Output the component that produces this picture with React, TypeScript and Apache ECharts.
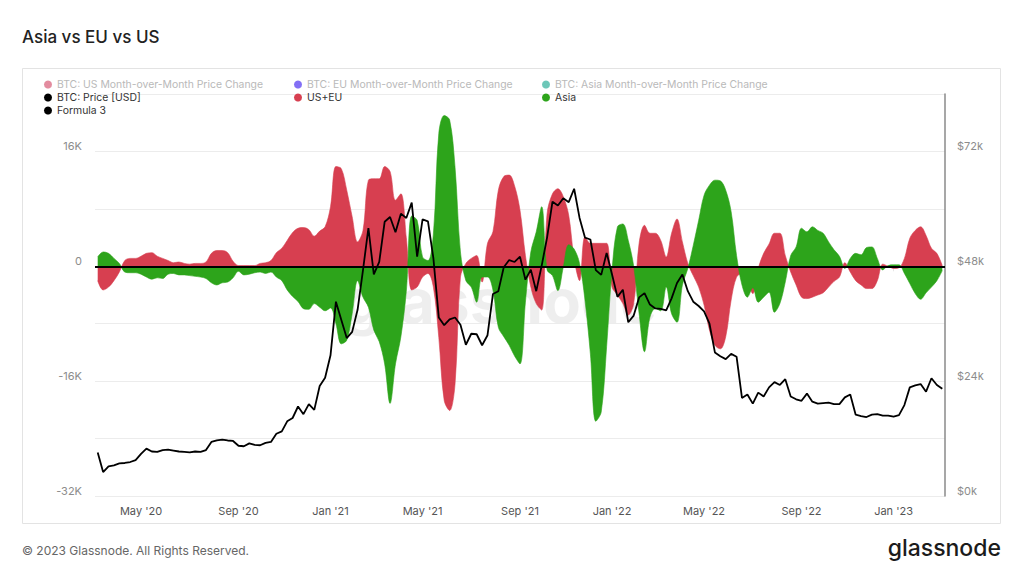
import React, { useEffect, useRef } from 'react';
import * as echarts from 'echarts';

// weekly samples starting 2020-03-06
const START_UTC = Date.UTC(2020, 2, 6);
const STEP_DAYS = 7;

// US+EU month-over-month change (thousands USD)
const usEu = [
  -2.0, -3.3, -2.9, -2.0, -0.8, 0.8, 1.1, 1.1, 1.4, 1.8,
  1.9, 1.4, 1.1, 0.8, 0.5, 0.6, 0.4, 0.3, 0.4, 0.4,
  0.6, 1.8, 2.2, 2.2, 1.9, 0.7, 0.1, 0.1, 0.1, 0.1,
  0.4, 0.5, 0.8, 1.9, 2.5, 3.6, 4.7, 5.3, 5.4, 5.1,
  4.2, 4.9, 5.5, 8.3, 13.9, 13.6, 10.6, 6.9, 3.4, 5.0,
  12.0, 12.2, 12.2, 13.9, 13.2, 9.2, 10.1, 4.0, -3.3, -2.9,
  -1.5, -1.0, -2.9, -9.9, -18.7, -20.1, -16.4, -1.5, 0.4, 1.1,
  1.5, -2.2, 3.2, 4.8, 10.6, 12.5, 12.7, 11.2, 7.8, 1.5,
  -2.9, -5.2, -6.1, 7.3, 10.1, 10.8, 9.7, 7.1, 1.0, -2.0,
  4.1, 3.2, 3.2, 3.2, 3.2, -2.9, -4.0, -5.2, -6.8, -5.2,
  3.2, 5.7, 4.6, 4.6, 3.6, 1.3, 4.6, 6.6, 3.4, 0.4,
  -1.3, -2.9, -5.4, -8.9, -11.0, -11.5, -9.8, -4.7, -1.5, -1.0,
  -2.2, -3.8, -0.3, 1.8, 3.1, 4.6, 4.6, 1.5, -0.8, -2.6,
  -4.3, -4.5, -4.3, -4.0, -3.7, -2.9, -2.1, -1.5, 0.5, -0.8,
  -2.0, -2.6, -3.1, -3.1, -2.0, 0.3, 0.0, -0.3, -0.2, 1.1,
  3.9, 5.0, 5.5, 4.3, 2.5, 1.8, 0.1,
];

// Asia month-over-month change (thousands USD)
const asia = [
  1.3, 2.0, 1.8, 1.1, 0.4, -0.8, -0.9, -0.9, -1.1, -1.5,
  -1.8, -1.6, -1.7, -1.1, -1.0, -1.2, -1.2, -1.3, -1.4, -1.5,
  -1.7, -2.3, -2.6, -2.3, -2.2, -1.6, -0.7, -1.2, -1.1, -0.9,
  -0.8, -1.0, -0.8, -1.5, -2.0, -3.3, -4.2, -4.9, -5.9, -6.0,
  -5.2, -5.7, -6.2, -5.8, -8.0, -10.8, -10.3, -6.6, -2.0, -4.3,
  -5.7, -8.9, -10.5, -13.6, -19.1, -13.6, -9.8, -3.5, 7.0, 6.4,
  1.3, 0.8, 4.5, 18.5, 21.0, 20.4, 13.8, 2.0, -2.0, -2.9,
  -5.0, -1.5, -1.5, -3.3, -8.5, -9.8, -11.0, -12.5, -13.6, -5.0,
  2.0, 4.8, 8.3, -0.5, -1.3, -3.4, -0.1, 3.0, 2.4, 0.4,
  -4.7, -12.2, -21.6, -20.3, -11.2, -0.5, 5.5, 5.9, 3.6, 0.0,
  -6.6, -11.9, -7.1, -5.9, -6.2, -2.9, -6.6, -7.8, -2.6, -0.3,
  2.9, 6.4, 9.9, 11.3, 12.0, 11.9, 10.6, 7.6, 1.5, -2.6,
  -4.3, -3.0, -5.0, -4.3, -3.6, -6.4, -5.2, -2.2, 1.5, 2.7,
  5.3, 4.8, 5.5, 5.0, 4.6, 3.4, 2.3, 1.4, -0.3, 1.1,
  1.8, 1.6, 2.6, 2.7, 1.1, -0.5, 0.1, 0.2, 0.2, -1.0,
  -2.4, -3.8, -4.6, -3.7, -2.9, -2.0, -0.6,
];

// BTC price (thousands USD)
const price = [
  9.1, 5.0, 6.2, 6.4, 6.8, 6.9, 7.1, 7.5, 8.8, 9.9,
  9.3, 9.2, 9.6, 9.7, 9.5, 9.3, 9.2, 9.1, 9.3, 9.2,
  9.6, 11.3, 11.6, 11.8, 11.6, 11.5, 10.5, 10.4, 11.0, 10.7,
  10.6, 11.1, 11.3, 13.0, 13.5, 15.6, 16.3, 18.7, 17.1, 19.2,
  18.0, 23.0, 24.7, 29.4, 40.6, 36.8, 33.0, 34.3, 38.9, 47.2,
  56.0, 46.3, 48.9, 57.3, 58.3, 55.1, 59.0, 58.1, 61.3, 50.0,
  57.8, 57.4, 49.7, 37.3, 35.7, 36.9, 37.3, 35.8, 31.6, 33.9,
  33.8, 31.5, 33.6, 42.2, 42.8, 47.8, 49.3, 48.9, 50.0, 45.2,
  47.3, 42.8, 48.1, 54.0, 61.5, 60.7, 62.2, 61.4, 64.2, 58.1,
  54.0, 53.6, 47.2, 46.2, 50.8, 46.3, 41.6, 43.1, 36.3, 37.7,
  41.5, 42.4, 40.0, 39.2, 39.1, 38.8, 41.3, 44.5, 46.3, 42.8,
  40.6, 39.7, 38.6, 36.0, 30.0, 29.2, 28.6, 29.7, 29.1, 20.5,
  21.2, 19.3, 21.6, 20.8, 22.7, 23.8, 23.2, 24.4, 20.8, 20.2,
  19.9, 21.4, 19.7, 19.3, 19.4, 19.5, 19.2, 19.2, 20.6, 21.2,
  17.0, 16.7, 16.5, 17.0, 17.1, 16.8, 16.8, 16.6, 16.9, 19.0,
  22.7, 23.1, 23.4, 21.8, 24.6, 23.2, 22.4,
];

const categories = usEu.map((_, i) =>
  new Date(START_UTC + i * STEP_DAYS * 86400000).toISOString().slice(0, 10)
);

const MONTHS = ['Jan', 'Feb', 'Mar', 'Apr', 'May', 'Jun', 'Jul', 'Aug', 'Sep', 'Oct', 'Nov', 'Dec'];
const LABEL_MONTHS = [0, 4, 8];

function tickLabel(dateStr: string): string {
  const t = Date.parse(dateStr + 'T00:00:00Z');
  for (let off = -3; off <= 3; off++) {
    const d = new Date(t + off * 86400000);
    if (d.getUTCDate() === 1 && LABEL_MONTHS.indexOf(d.getUTCMonth()) >= 0) {
      return `${MONTHS[d.getUTCMonth()]} '${String(d.getUTCFullYear()).slice(2)}`;
    }
  }
  return '';
}

const US_MOM = 'BTC: US Month-over-Month Price Change';
const EU_MOM = 'BTC: EU Month-over-Month Price Change';
const ASIA_MOM = 'BTC: Asia Month-over-Month Price Change';
const PRICE = 'BTC: Price [USD]';
const USEU = 'US+EU';
const ASIA = 'Asia';
const F3 = 'Formula 3';

const FONT = 'Inter, "Noto Sans", sans-serif';
const FADED = '#b9b9b9';
const RED = '#d73f50';
const GREEN = '#2da41b';

export default function App() {
  const ref = useRef<HTMLDivElement>(null);
  useEffect(() => {
    const chart = echarts.init(ref.current!, undefined, { renderer: 'svg' });
    const legendBase = {
      orient: 'vertical',
      top: 78,
      padding: 0,
      itemGap: 0,
      itemWidth: 8,
      itemHeight: 8,
      icon: 'circle',
      selectedMode: false,
      textStyle: { fontSize: 10.4, color: '#333', lineHeight: 13, fontFamily: FONT },
    };
    const faded = (name: string) => ({
      name,
      textStyle: { color: FADED },
      itemStyle: { opacity: 0.75 },
    });
    const isLabel = (_i: number, v: string) => tickLabel(v) !== '';
    const areaSeries = (name: string, data: number[], color: string, z: number) => ({
      name,
      type: 'line',
      yAxisIndex: 0,
      data,
      smooth: 0.35,
      symbol: 'none',
      showSymbol: false,
      silent: true,
      z,
      itemStyle: { color },
      lineStyle: { color, width: 0.6 },
      areaStyle: { color, opacity: 1 },
    });
    chart.setOption({
      animation: false,
      backgroundColor: '#fff',
      textStyle: { fontFamily: FONT },
      grid: { left: 95, right: 78, top: 94, bottom: 80, containLabel: false },
      legend: [
        { ...legendBase, left: 44, data: [faded(US_MOM), PRICE, F3] },
        { ...legendBase, left: 294, data: [faded(EU_MOM), USEU] },
        { ...legendBase, left: 542, data: [faded(ASIA_MOM), ASIA] },
      ],
      xAxis: {
        type: 'category',
        data: categories,
        boundaryGap: true,
        axisLine: { show: false },
        axisTick: {
          show: true,
          interval: isLabel,
          alignWithLabel: true,
          length: 5,
          lineStyle: { color: '#e6e6e6' },
        },
        axisLabel: {
          interval: isLabel,
          formatter: (v: string) => tickLabel(v),
          color: '#555',
          fontSize: 11,
          margin: 9,
        },
        splitLine: { show: false },
      },
      yAxis: [
        {
          type: 'value',
          min: -32,
          max: 24,
          interval: 8,
          position: 'left',
          axisLine: { show: false },
          axisTick: { show: false },
          axisLabel: {
            formatter: (v: number) => (v % 16 === 0 ? (v === 0 ? '0' : v + 'K') : ''),
            color: '#8c8c8c',
            fontSize: 11,
            margin: 13,
            verticalAlign: 'bottom',
          },
          splitLine: { lineStyle: { color: '#ececec', width: 1 } },
        },
        {
          type: 'value',
          min: 0,
          max: 84,
          interval: 12,
          position: 'right',
          axisLine: { show: true, lineStyle: { color: '#8a8a8a', width: 1.5 } },
          axisTick: { show: false },
          axisLabel: {
            formatter: (v: number) => (v % 24 === 0 ? '$' + v + 'k' : ''),
            color: '#8c8c8c',
            fontSize: 11,
            margin: 12,
            verticalAlign: 'bottom',
          },
          splitLine: { show: false },
        },
      ],
      graphic: [
        {
          type: 'rect',
          silent: true,
          z: -1,
          shape: { x: 22.5, y: 68.5, width: 978, height: 455 },
          style: { fill: 'none', stroke: '#e3e3e3', lineWidth: 1 },
        },
        {
          type: 'text',
          silent: true,
          x: 22,
          y: 37,
          style: {
            text: 'Asia vs EU vs US',
            font: `500 17px ${FONT}`,
            fill: '#222',
            verticalAlign: 'middle',
            textVerticalAlign: 'middle',
          },
        },
        {
          type: 'text',
          silent: true,
          x: 500,
          y: 300,
          z: 0,
          style: {
            text: 'glassnode',
            font: `700 62px ${FONT}`,
            fill: 'rgba(0,0,0,0.065)',
            align: 'center',
            textAlign: 'center',
            verticalAlign: 'middle',
            textVerticalAlign: 'middle',
          },
        },
        {
          type: 'text',
          silent: true,
          x: 22,
          y: 550,
          style: {
            text: '© 2023 Glassnode. All Rights Reserved.',
            font: `12px ${FONT}`,
            fill: '#666',
            verticalAlign: 'middle',
            textVerticalAlign: 'middle',
          },
        },
        {
          type: 'text',
          silent: true,
          x: 1001,
          y: 548,
          style: {
            text: 'glassnode',
            font: `500 23px ${FONT}`,
            fill: '#1b1b1b',
            align: 'right',
            textAlign: 'right',
            verticalAlign: 'middle',
            textVerticalAlign: 'middle',
          },
        },
      ],
      series: [
        { name: US_MOM, type: 'line', data: [], itemStyle: { color: '#d9667f' } },
        { name: EU_MOM, type: 'line', data: [], itemStyle: { color: '#5a3ff2' } },
        { name: ASIA_MOM, type: 'line', data: [], itemStyle: { color: '#3cb4a0' } },
        areaSeries(USEU, usEu, RED, 2),
        areaSeries(ASIA, asia, GREEN, 3),
        {
          name: PRICE,
          type: 'line',
          yAxisIndex: 1,
          data: price,
          symbol: 'none',
          showSymbol: false,
          lineStyle: { color: '#000', width: 1.8 },
          itemStyle: { color: '#000' },
          silent: true,
          z: 4,
        },
        {
          name: F3,
          type: 'line',
          yAxisIndex: 0,
          data: [],
          itemStyle: { color: '#000' },
          z: 5,
          markLine: {
            silent: true,
            symbol: ['none', 'none'],
            label: { show: false },
            lineStyle: { color: '#000', width: 2, type: 'solid' },
            data: [{ yAxis: 0 }],
          },
        },
      ],
    });
    return () => chart.dispose();
  }, []);
  return (
    <div
      ref={ref}
      style={{ position: 'absolute', left: 0, top: 0, width: 1023, height: 576, background: '#fff' }}
    />
  );
}
